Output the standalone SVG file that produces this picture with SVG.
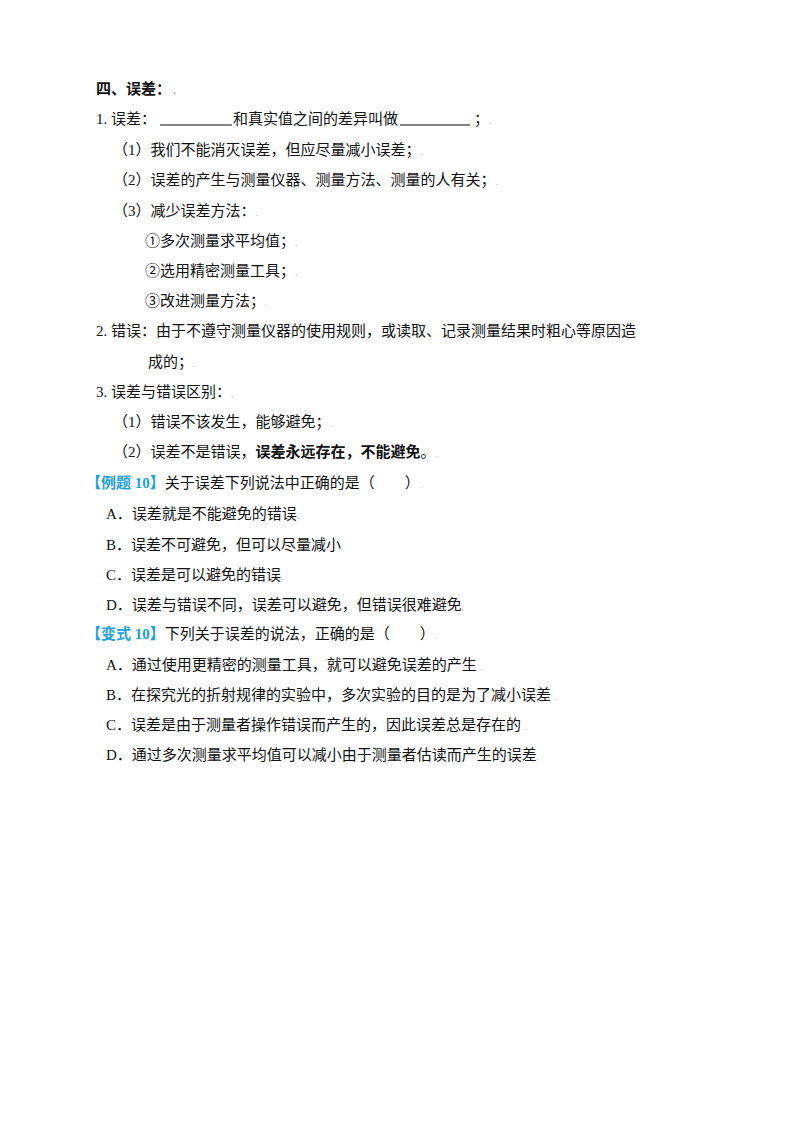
<svg xmlns="http://www.w3.org/2000/svg" width="800" height="1132" viewBox="0 0 800 1132">
<style>
text{font-family:"Liberation Serif","Noto Sans CJK SC",serif;font-size:15px;fill:#111}
.b{font-weight:bold;font-family:"Noto Sans CJK SC",sans-serif}
.blue{fill:#1a9fe0;font-weight:bold}
.d{fill:#999;font-size:9px}
</style>
<rect width="800" height="1132" fill="#fff"/>
<text x="96" y="94" class="b">四、误差：<tspan class="d"> .</tspan></text>
<text x="96" y="124">1. 误差：</text>
<line x1="160" y1="125" x2="232" y2="125" stroke="#111" stroke-width="1.2"/>
<text x="233" y="124">和真实值之间的差异叫做</text>
<line x1="400" y1="125" x2="470" y2="125" stroke="#111" stroke-width="1.2"/>
<text x="474" y="124">；<tspan class="d">.</tspan></text>
<text x="113" y="155">（1）我们不能消灭误差，但应尽量减小误差；<tspan class="d">.</tspan></text>
<text x="113" y="185">（2）误差的产生与测量仪器、测量方法、测量的人有关；<tspan class="d">.</tspan></text>
<text x="113" y="216">（3）减少误差方法：<tspan class="d">.</tspan></text>
<text x="145" y="246">①多次测量求平均值；<tspan class="d">.</tspan></text>
<text x="145" y="276">②选用精密测量工具；<tspan class="d">.</tspan></text>
<text x="145" y="306">③改进测量方法；<tspan class="d">.</tspan></text>
<text x="96" y="336">2. 错误：由于不遵守测量仪器的使用规则，或读取、记录测量结果时粗心等原因造</text>
<text x="148" y="367">成的；<tspan class="d">.</tspan></text>
<text x="96" y="397">3. 误差与错误区别：<tspan class="d">.</tspan></text>
<text x="113" y="427">（1）错误不该发生，能够避免；<tspan class="d">.</tspan></text>
<text x="113" y="457">（2）误差不是错误，<tspan class="b">误差永远存在，不能避免</tspan>。<tspan class="d">.</tspan></text>
<text x="86" y="488"><tspan class="blue">【例题 10】</tspan>关于误差下列说法中正确的是（　　）<tspan class="d">.</tspan></text>
<text x="106" y="519">A．误差就是不能避免的错误<tspan class="d">.</tspan></text>
<text x="106" y="550">B．误差不可避免，但可以尽量减小<tspan class="d">.</tspan></text>
<text x="106" y="580">C．误差是可以避免的错误<tspan class="d">.</tspan></text>
<text x="106" y="610">D．误差与错误不同，误差可以避免，但错误很难避免<tspan class="d">.</tspan></text>
<text x="86" y="639"><tspan class="blue">【变式 10】</tspan>下列关于误差的说法，正确的是（　　）<tspan class="d">.</tspan></text>
<text x="106" y="670">A．通过使用更精密的测量工具，就可以避免误差的产生 <tspan class="d">.</tspan></text>
<text x="106" y="700">B．在探究光的折射规律的实验中，多次实验的目的是为了减小误差 <tspan class="d">.</tspan></text>
<text x="106" y="730">C．误差是由于测量者操作错误而产生的，因此误差总是存在的 <tspan class="d">.</tspan></text>
<text x="106" y="760">D．通过多次测量求平均值可以减小由于测量者估读而产生的误差<tspan class="d">.</tspan></text>
</svg>
